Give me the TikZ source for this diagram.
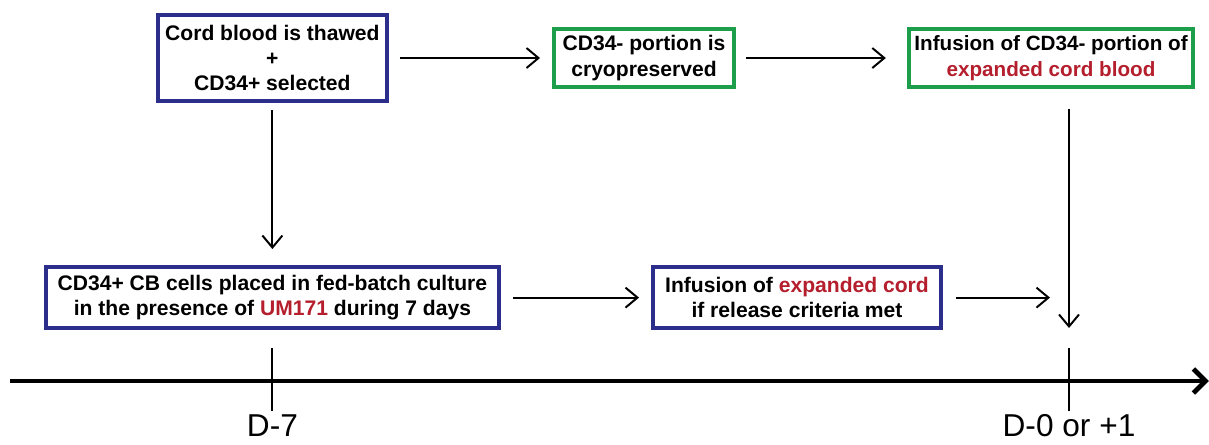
\documentclass[tikz,border=0pt]{standalone}
\usepackage{fontspec}
\setmainfont{Liberation Sans}
\usetikzlibrary{arrows.meta}

\definecolor{stepblue}{RGB}{44,46,140}
\definecolor{stepgreen}{RGB}{28,158,74}
\definecolor{cordred}{RGB}{180,30,45}

\tikzset{
	bluebox/.style={draw=stepblue, line width=2.8pt, inner sep=0pt, align=center, font=\fontsize{15}{18}\selectfont\bfseries},
	greenbox/.style={bluebox, draw=stepgreen},
	flow/.style={line width=1.4pt, -{Straight Barb[length=0.3cm, width=0.5cm]}},
	timeline/.style={line width=3.4pt, -{Straight Barb[length=0.3cm, width=0.6cm]}},
	tick/.style={line width=1.4pt},
	daylabel/.style={anchor=base, inner sep=0pt, font=\fontsize{22.5}{26}\selectfont}
}

\begin{document}
\begin{tikzpicture}
	\useasboundingbox (0,0) rectangle (30.225,-11.1);
	% top row
	\node[bluebox, minimum width=5.73cm, minimum height=2.15cm] (thaw) at (6.81,-1.45) {Cord blood is thawed\\+\\CD34+ selected};
	\node[greenbox, minimum width=4.5cm, minimum height=1.45cm] (cryo) at (16.1,-1.45) {CD34- portion is\\cryopreserved};
	\node[greenbox, minimum width=7.1cm, minimum height=1.45cm, font=\fontsize{14.7}{18}\selectfont\bfseries] (neg) at (26.275,-1.45) {Infusion of CD34- portion of\\\textcolor{cordred}{expanded cord blood}};
	% bottom row
	\node[bluebox, minimum width=11.33cm, minimum height=1.53cm] (culture) at (6.81,-7.44) {CD34+ CB cells placed in fed-batch culture\\in the presence of \textcolor{cordred}{UM171} during 7 days};
	\node[bluebox, minimum width=7.2cm, minimum height=1.53cm] (release) at (19.925,-7.44) {Infusion of \textcolor{cordred}{expanded cord}\\if release criteria met};
	% time axis
	\coordinate (tstart) at (0.25,-9.525);
	\coordinate (tend) at (30.22,-9.525);
	\coordinate (d7) at (6.81,-9.525);
	\coordinate (d0) at (26.725,-9.525);
	\draw[timeline] (tstart) -- (tend);
	\draw[tick] ([yshift=0.825cm]d7) -- ([yshift=-0.75cm]d7);
	\draw[tick] ([yshift=0.825cm]d0) -- ([yshift=-0.75cm]d0);
	\node[daylabel] (d7lbl) at (6.81,-10.92) {D-7};
	\node[daylabel] (d0lbl) at (26.725,-10.92) {D-0 or +1};
	% arrows
	\draw[flow, shorten <=0.28cm, shorten >=0.3cm] (thaw.east) -- (cryo.west);
	\draw[flow, shorten <=0.25cm, shorten >=0.53cm] (cryo.east) -- (neg.west);
	\draw[flow, shorten <=0.18cm, shorten >=0.4cm] (thaw.south) -- (culture.north);
	\draw[flow, shorten <=0.3cm, shorten >=0.3cm] (culture.east) -- (release.west);
	\draw[flow, shorten <=0.33cm, shorten >=0.475cm] (release.east) -- (d0 |- release.east);
	\draw[flow, shorten <=0.5cm, shorten >=1.325cm] (neg.south -| d0) -- (d0);
\end{tikzpicture}
\end{document}
